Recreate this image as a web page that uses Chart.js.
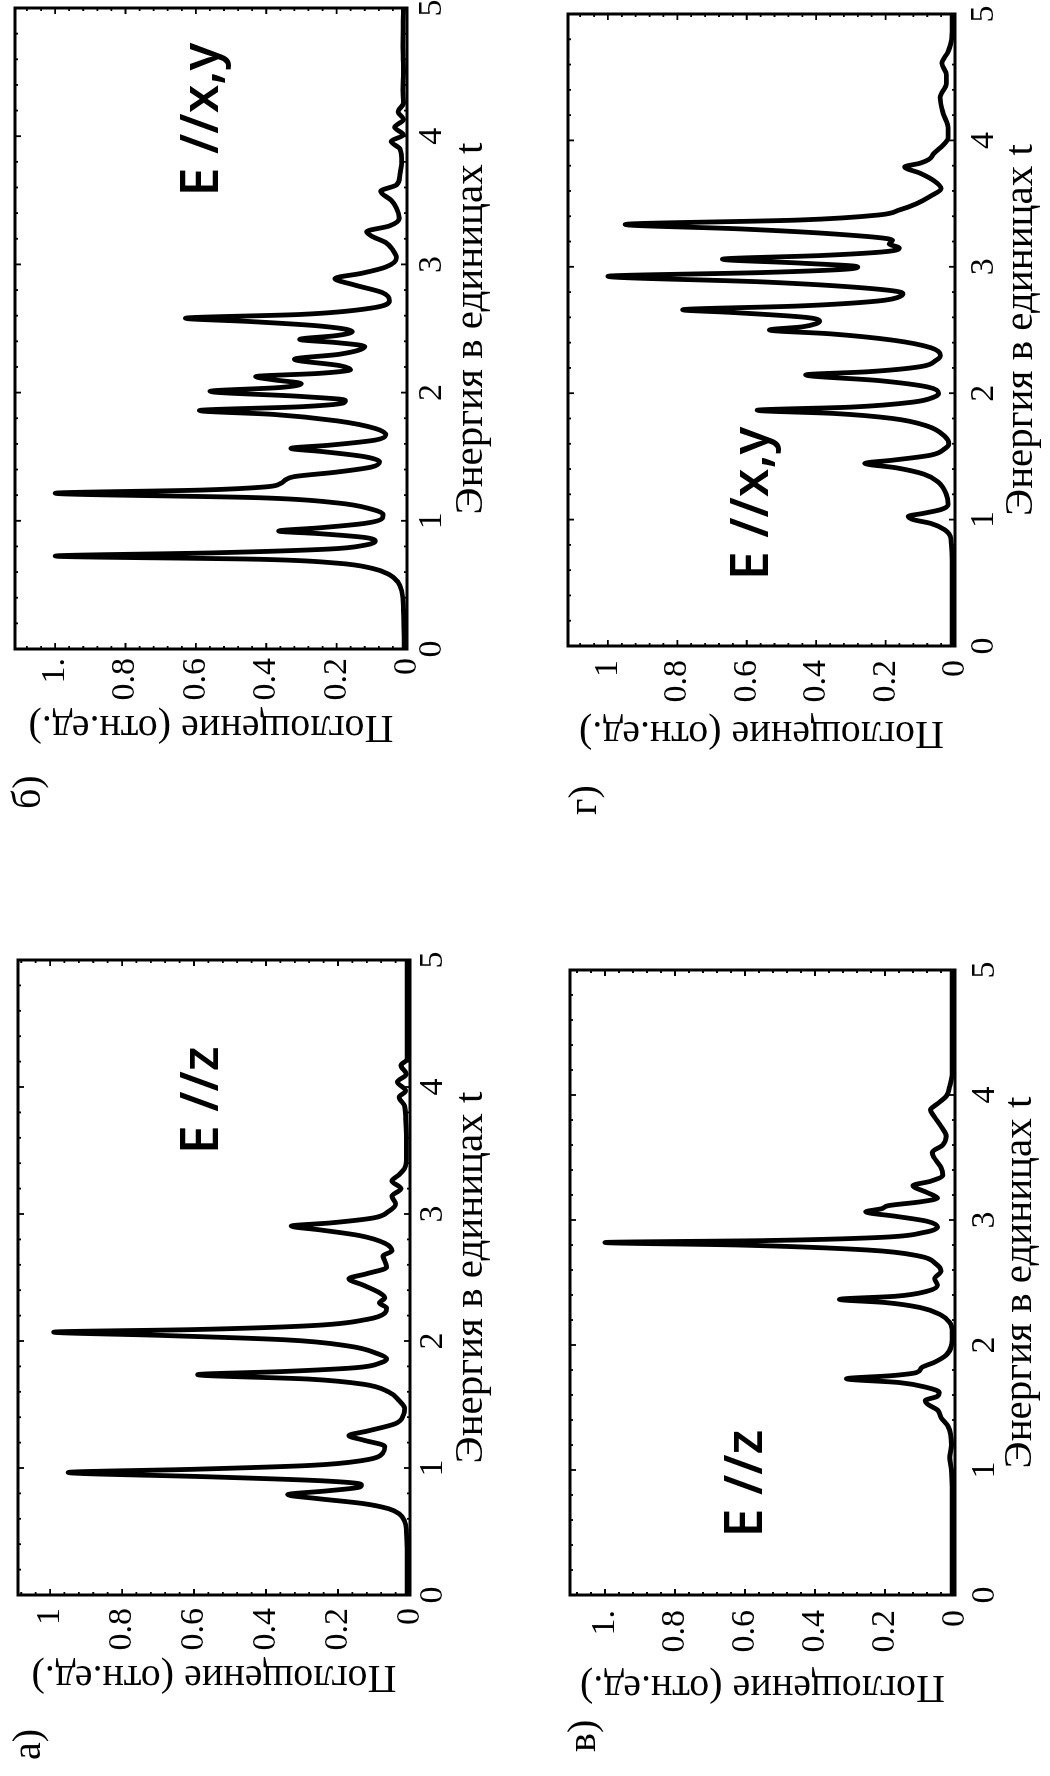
<!DOCTYPE html>
<html lang="ru">
<head>
<meta charset="utf-8">
<title>Поглощение</title>
<script src="https://cdn.jsdelivr.net/npm/chart.js@4.4.1/dist/chart.umd.min.js"></script>
<style>
  html, body { margin: 0; padding: 0; background: #fff; overflow: hidden; }
  body { width: 1050px; height: 1776px; position: relative; }
  /* the whole figure is printed turned a quarter turn to the left */
  #figure { position: absolute; left: 0; top: 0; width: 1776px; height: 1050px;
    transform-origin: 0 0; transform: translate(0px, 1776px) rotate(-90deg); }
  #figure canvas { position: absolute; }
</style>
</head>
<body>
<div id="figure"></div>
<script>
// а) E //z
const energyA = [0, 0.30, 0.50, 0.58, 0.64, 0.68, 0.72, 0.76, 0.79, 0.82, 0.85, 0.87, 0.90, 0.93, 0.965, 0.99, 1.02, 1.06, 1.12, 1.17,
  1.22, 1.255, 1.29, 1.35, 1.42, 1.47, 1.53, 1.60, 1.66, 1.70, 1.735, 1.76, 1.79, 1.83, 1.86, 1.90, 1.96, 2.01, 2.045, 2.07,
  2.09, 2.12, 2.17, 2.22, 2.26, 2.30, 2.34, 2.38, 2.44, 2.49, 2.53, 2.58, 2.63, 2.67, 2.71, 2.77, 2.83, 2.875, 2.905, 2.93,
  2.97, 3.02, 3.08, 3.14, 3.20, 3.26, 3.31, 3.36, 3.45, 3.60, 3.75, 3.85, 3.92, 3.97, 4.04, 4.10, 4.17, 4.22, 4.40, 5.00];
const absorbA = [0.008, 0.008, 0.010, 0.015, 0.03, 0.06, 0.13, 0.26, 0.34, 0.23, 0.14, 0.135, 0.25, 0.55, 0.95, 0.60, 0.28, 0.13, 0.075, 0.07,
  0.13, 0.17, 0.12, 0.04, 0.018, 0.015, 0.03, 0.06, 0.13, 0.28, 0.59, 0.35, 0.15, 0.08, 0.065, 0.09, 0.17, 0.35, 0.70, 0.99,
  0.60, 0.28, 0.12, 0.07, 0.065, 0.085, 0.07, 0.085, 0.13, 0.17, 0.12, 0.065, 0.07, 0.075, 0.05, 0.07, 0.14, 0.25, 0.33, 0.22,
  0.10, 0.06, 0.04, 0.05, 0.025, 0.05, 0.03, 0.015, 0.01, 0.01, 0.012, 0.015, 0.03, 0.012, 0.035, 0.01, 0.025, 0.008, 0.008, 0.008];

// б) E //x,y
const energyB = [0, 0.30, 0.45, 0.52, 0.58, 0.63, 0.67, 0.70, 0.725, 0.75, 0.78, 0.81, 0.84, 0.87, 0.90, 0.92, 0.945, 0.98, 1.02, 1.05,
  1.09, 1.14, 1.18, 1.215, 1.24, 1.265, 1.29, 1.32, 1.345, 1.38, 1.42, 1.46, 1.50, 1.54, 1.565, 1.59, 1.63, 1.67, 1.72, 1.78,
  1.83, 1.86, 1.89, 1.92, 1.94, 1.97, 2.01, 2.04, 2.07, 2.10, 2.125, 2.15, 2.18, 2.21, 2.26, 2.30, 2.36, 2.39, 2.415, 2.445,
  2.475, 2.52, 2.555, 2.58, 2.61, 2.66, 2.72, 2.78, 2.84, 2.89, 2.93, 2.98, 3.05, 3.11, 3.17, 3.22, 3.255, 3.30, 3.36, 3.44,
  3.50, 3.57, 3.62, 3.70, 3.80, 3.90, 3.96, 4.01, 4.07, 4.13, 4.19, 4.26, 4.36, 4.50, 4.70, 5.00];
const absorbB = [0.008, 0.01, 0.015, 0.025, 0.05, 0.10, 0.20, 0.42, 1.00, 0.55, 0.22, 0.12, 0.09, 0.12, 0.25, 0.365, 0.25, 0.12, 0.07, 0.068,
  0.10, 0.20, 0.42, 1.00, 0.58, 0.40, 0.36, 0.345, 0.32, 0.20, 0.10, 0.078, 0.12, 0.24, 0.33, 0.22, 0.09, 0.06, 0.09, 0.20,
  0.38, 0.59, 0.30, 0.18, 0.175, 0.30, 0.56, 0.36, 0.30, 0.38, 0.43, 0.25, 0.16, 0.19, 0.32, 0.19, 0.12, 0.20, 0.305, 0.20,
  0.155, 0.25, 0.45, 0.63, 0.30, 0.10, 0.05, 0.07, 0.15, 0.205, 0.13, 0.06, 0.03, 0.04, 0.06, 0.10, 0.115, 0.05, 0.022, 0.03,
  0.045, 0.075, 0.03, 0.02, 0.015, 0.02, 0.045, 0.01, 0.035, 0.01, 0.025, 0.01, 0.012, 0.01, 0.012, 0.01];

// в) E //z
const energyC = [0, 0.80, 1.00, 1.10, 1.20, 1.35, 1.42, 1.48, 1.53, 1.555, 1.59, 1.62, 1.66, 1.70, 1.73, 1.755, 1.78, 1.82, 1.86, 1.92,
  2.00, 2.10, 2.18, 2.24, 2.30, 2.34, 2.365, 2.39, 2.43, 2.48, 2.53, 2.59, 2.65, 2.71, 2.76, 2.80, 2.82, 2.835, 2.86, 2.90,
  2.945, 2.99, 3.03, 3.065, 3.09, 3.115, 3.145, 3.175, 3.22, 3.275, 3.31, 3.36, 3.42, 3.50, 3.54, 3.60, 3.67, 3.75, 3.83, 3.88,
  3.93, 3.99, 4.07, 4.18, 5.00];
const absorbC = [0.008, 0.008, 0.01, 0.015, 0.01, 0.02, 0.04, 0.05, 0.08, 0.085, 0.05, 0.045, 0.08, 0.16, 0.31, 0.18, 0.11, 0.095, 0.06, 0.025,
  0.01, 0.008, 0.015, 0.04, 0.10, 0.20, 0.33, 0.17, 0.08, 0.05, 0.058, 0.04, 0.055, 0.10, 0.25, 0.62, 1.00, 0.55, 0.22, 0.09,
  0.05, 0.08, 0.17, 0.255, 0.21, 0.19, 0.10, 0.05, 0.08, 0.12, 0.07, 0.035, 0.04, 0.06, 0.065, 0.035, 0.025, 0.04, 0.06, 0.07,
  0.05, 0.025, 0.015, 0.008, 0.008];

// г) E //x,y
const energyD = [0, 0.60, 0.85, 0.92, 0.97, 1.00, 1.025, 1.05, 1.08, 1.12, 1.20, 1.30, 1.36, 1.41, 1.445, 1.47, 1.51, 1.56, 1.60, 1.66,
  1.74, 1.80, 1.84, 1.865, 1.89, 1.93, 1.97, 2.00, 2.05, 2.10, 2.145, 2.17, 2.21, 2.26, 2.30, 2.36, 2.42, 2.47, 2.50, 2.525,
  2.55, 2.57, 2.60, 2.64, 2.66, 2.69, 2.73, 2.77, 2.79, 2.83, 2.88, 2.925, 2.955, 2.98, 3.00, 3.03, 3.06, 3.09, 3.12, 3.15,
  3.18, 3.21, 3.26, 3.30, 3.335, 3.37, 3.41, 3.45, 3.50, 3.56, 3.62, 3.68, 3.74, 3.79, 3.82, 3.85, 3.90, 3.96, 4.02, 4.10,
  4.22, 4.34, 4.45, 4.52, 4.61, 4.70, 4.80, 5.00];
const absorbD = [0.008, 0.008, 0.012, 0.03, 0.07, 0.12, 0.135, 0.09, 0.04, 0.02, 0.025, 0.05, 0.09, 0.17, 0.26, 0.18, 0.07, 0.03, 0.018, 0.03,
  0.08, 0.18, 0.35, 0.57, 0.30, 0.12, 0.06, 0.047, 0.08, 0.22, 0.43, 0.25, 0.10, 0.055, 0.042, 0.07, 0.18, 0.36, 0.535, 0.44,
  0.40, 0.39, 0.43, 0.65, 0.785, 0.45, 0.22, 0.155, 0.15, 0.25, 0.55, 1.00, 0.55, 0.32, 0.28, 0.45, 0.67, 0.38, 0.20, 0.16,
  0.19, 0.18, 0.35, 0.62, 0.95, 0.45, 0.22, 0.16, 0.11, 0.07, 0.04, 0.06, 0.10, 0.145, 0.10, 0.075, 0.06, 0.035, 0.02, 0.02,
  0.035, 0.043, 0.025, 0.025, 0.038, 0.02, 0.01, 0.008];

const xTickValues = [0, 1, 2, 3, 4, 5];
const xTickLabels = ['0', '1', '2', '3', '4', '5'];
const yTickValues = [0, 0.2, 0.4, 0.6, 0.8, 1];
const yTickLabels = ['0', '0.2', '0.4', '0.6', '0.8', '1'];
const yTickLabelsDot = ['0', '0.2', '0.4', '0.6', '0.8', '1.'];
const xTitle = 'Энергия в единицах t';
const yTitle = 'Поглощение (отн.ед.)';
const panelLetters = ['а)', 'б)', 'в)', 'г)'];
const fieldLabels = ['E //z', 'E //x,y', 'E //z', 'E //x,y'];

const energyMinorStep = 0.2;
const absorbMinorStep = 0.04;

Chart.defaults.font.family = '"Liberation Serif", "Times New Roman", serif';
Chart.defaults.color = '#000';

// box frame, little inward ticks on all four sides, field label and panel letter
const frameTicks = {
  id: 'frameTicks',
  afterDatasetsDraw(chart, args, opts) {
    const { ctx, chartArea: a } = chart;
    const x = chart.scales.x, y = chart.scales.y;
    ctx.save();
    ctx.strokeStyle = '#000';
    ctx.lineWidth = 1.8;
    ctx.beginPath();
    for (let k = 0; k * energyMinorStep <= x.max + 1e-9; k++) {
      const px = x.getPixelForValue(k * energyMinorStep);
      const len = k % 5 === 0 ? 6 : 3;
      ctx.moveTo(px, a.bottom); ctx.lineTo(px, a.bottom - len);
      ctx.moveTo(px, a.top); ctx.lineTo(px, a.top + len);
    }
    for (let k = 0; k * absorbMinorStep <= y.max; k++) {
      const py = y.getPixelForValue(k * absorbMinorStep);
      const len = k % 5 === 0 ? 6 : 3;
      ctx.moveTo(a.left, py); ctx.lineTo(a.left + len, py);
      ctx.moveTo(a.right, py); ctx.lineTo(a.right - len, py);
    }
    ctx.stroke();
    ctx.lineWidth = 3;
    ctx.strokeRect(a.left, a.top, a.right - a.left, a.bottom - a.top);

    ctx.fillStyle = '#000';
    ctx.textAlign = 'left';
    ctx.textBaseline = 'alphabetic';
    ctx.font = '600 52px "Open Sans", sans-serif';
    ctx.fillText(opts.field, x.getPixelForValue(opts.fieldAt[0]), y.getPixelForValue(opts.fieldAt[1]));
    ctx.font = '40px "Liberation Serif", serif';
    ctx.fillText(opts.letter, opts.letterAt[0], opts.letterAt[1]);
    ctx.restore();
  }
};

const panels = [
  { energy: energyA, absorb: absorbA, yLabels: yTickLabels, letter: panelLetters[0], field: fieldLabels[0],
    left: 0, top: 0, w: 880, h: 525, padTop: 18, padRight: 64, yAxisW: 181, xAxisH: 115, yMax: 1.089,
    xTickPad: 3, yTickPad: 13, xTitlePad: 29, yTitlePad: 75, letterAt: [16, 40], fieldAt: [3.47, 0.533] },
  { energy: energyB, absorb: absorbB, yLabels: yTickLabelsDot, letter: panelLetters[1], field: fieldLabels[1],
    left: 890, top: 0, w: 886, h: 525, padTop: 15, padRight: 8, yAxisW: 237, xAxisH: 118, yMax: 1.114,
    xTickPad: 5, yTickPad: 9, xTitlePad: 29, yTitlePad: 135, letterAt: [77, 40], fieldAt: [3.53, 0.537] },
  { energy: energyC, absorb: absorbC, yLabels: yTickLabelsDot, letter: panelLetters[2], field: fieldLabels[2],
    left: 0, top: 525, w: 880, h: 525, padTop: 45, padRight: 74, yAxisW: 181, xAxisH: 95, yMax: 1.10,
    xTickPad: 10, yTickPad: 15, xTitlePad: 5, yTitlePad: 65, letterAt: [24, 70], fieldAt: [0.46, 0.551] },
  { energy: energyD, absorb: absorbD, yLabels: yTickLabels, letter: panelLetters[3], field: fieldLabels[3],
    left: 890, top: 525, w: 886, h: 525, padTop: 43, padRight: 14, yAxisW: 240, xAxisH: 95, yMax: 1.115,
    xTickPad: 9, yTickPad: 14, xTitlePad: 4, yTitlePad: 129, letterAt: [71, 71], fieldAt: [0.52, 0.539] }
];

const figure = document.getElementById('figure');

panels.forEach(p => {
  const canvas = document.createElement('canvas');
  canvas.width = p.w;
  canvas.height = p.h;
  canvas.style.left = p.left + 'px';
  canvas.style.top = p.top + 'px';
  canvas.style.width = p.w + 'px';
  canvas.style.height = p.h + 'px';
  figure.appendChild(canvas);

  new Chart(canvas.getContext('2d'), {
    type: 'line',
    data: {
      datasets: [{
        data: p.energy.map((e, i) => ({ x: e, y: p.absorb[i] })),
        borderColor: '#000',
        borderWidth: 4.8,
        pointRadius: 0,
        fill: false,
        cubicInterpolationMode: 'monotone'
      }]
    },
    options: {
      responsive: false,
      animation: false,
      devicePixelRatio: 1,
      events: [],
      layout: { padding: { left: 0, top: p.padTop, right: p.padRight, bottom: 0 } },
      plugins: {
        legend: { display: false },
        tooltip: { enabled: false },
        frameTicks: { field: p.field, fieldAt: p.fieldAt, letter: p.letter, letterAt: p.letterAt }
      },
      scales: {
        x: {
          type: 'linear', min: 0, max: 5,
          grid: { display: false, drawTicks: false },
          border: { display: false },
          afterBuildTicks: s => { s.ticks = xTickValues.map(v => ({ value: v })); },
          afterFit: s => { s.height = p.xAxisH; s.paddingLeft = 0; s.paddingRight = 0; },
          ticks: { font: { size: 34 }, color: '#000', padding: p.xTickPad, maxRotation: 0, autoSkip: false,
                   callback: (v, i) => xTickLabels[i] },
          title: { display: true, text: xTitle, color: '#000', font: { size: 41 },
                   padding: { top: 0, bottom: p.xTitlePad } }
        },
        y: {
          type: 'linear', min: 0, max: p.yMax,
          grid: { display: false, drawTicks: false },
          border: { display: false },
          afterBuildTicks: s => { s.ticks = yTickValues.map(v => ({ value: v })); },
          afterFit: s => { s.width = p.yAxisW; s.paddingTop = 0; s.paddingBottom = 0; },
          ticks: { font: { size: 34 }, color: '#000', padding: p.yTickPad, autoSkip: false,
                   callback: (v, i) => p.yLabels[i] },
          title: { display: true, text: yTitle, color: '#000', font: { size: 40 },
                   padding: { top: p.yTitlePad, bottom: 0 } }
        }
      }
    },
    plugins: [frameTicks]
  });
});
</script>
</body>
</html>
